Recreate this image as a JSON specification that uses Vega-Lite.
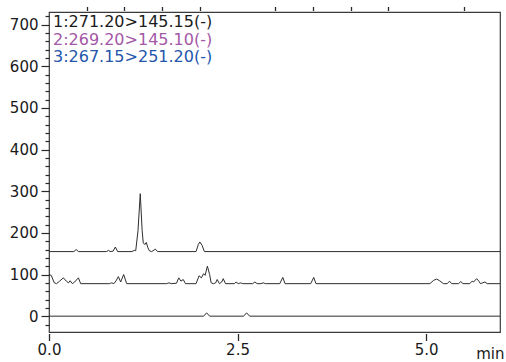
{
  "$schema": "https://vega.github.io/schema/vega-lite/v6.json",
  "width": 451,
  "height": 320,
  "autosize": {"type": "none"},
  "padding": {"left": 49, "top": 12, "right": 6, "bottom": 30},
  "background": "white",
  "config": {
    "view": {"stroke": "#3a3a3a", "strokeWidth": 1.2},
    "font": "DejaVu Sans"
  },
  "resolve": {"axis": {"x": "independent"}},
  "layer": [
    {
      "data": {
        "values": [
          {"ch": "1", "t": 0, "v": 155}, {"ch": "1", "t": 0.33, "v": 155}, {"ch": "1", "t": 0.36, "v": 160}, {"ch": "1", "t": 0.39, "v": 155},
          {"ch": "1", "t": 0.76, "v": 155}, {"ch": "1", "t": 0.79, "v": 158}, {"ch": "1", "t": 0.81, "v": 155}, {"ch": "1", "t": 0.85, "v": 156},
          {"ch": "1", "t": 0.88, "v": 166}, {"ch": "1", "t": 0.91, "v": 155}, {"ch": "1", "t": 1.1, "v": 155}, {"ch": "1", "t": 1.13, "v": 158},
          {"ch": "1", "t": 1.15, "v": 157}, {"ch": "1", "t": 1.18, "v": 205}, {"ch": "1", "t": 1.21, "v": 294}, {"ch": "1", "t": 1.235, "v": 205},
          {"ch": "1", "t": 1.25, "v": 176}, {"ch": "1", "t": 1.27, "v": 172}, {"ch": "1", "t": 1.29, "v": 177}, {"ch": "1", "t": 1.31, "v": 165},
          {"ch": "1", "t": 1.33, "v": 157}, {"ch": "1", "t": 1.36, "v": 155}, {"ch": "1", "t": 1.38, "v": 157}, {"ch": "1", "t": 1.41, "v": 161},
          {"ch": "1", "t": 1.44, "v": 155}, {"ch": "1", "t": 1.95, "v": 155}, {"ch": "1", "t": 1.98, "v": 172}, {"ch": "1", "t": 2.0, "v": 178},
          {"ch": "1", "t": 2.03, "v": 170}, {"ch": "1", "t": 2.06, "v": 155}, {"ch": "1", "t": 5.98, "v": 155},

          {"ch": "2", "t": 0, "v": 100}, {"ch": "2", "t": 0.03, "v": 98}, {"ch": "2", "t": 0.07, "v": 80}, {"ch": "2", "t": 0.1, "v": 78},
          {"ch": "2", "t": 0.14, "v": 84}, {"ch": "2", "t": 0.19, "v": 92}, {"ch": "2", "t": 0.23, "v": 84}, {"ch": "2", "t": 0.26, "v": 80},
          {"ch": "2", "t": 0.28, "v": 85}, {"ch": "2", "t": 0.31, "v": 78}, {"ch": "2", "t": 0.34, "v": 82}, {"ch": "2", "t": 0.39, "v": 92},
          {"ch": "2", "t": 0.42, "v": 78}, {"ch": "2", "t": 0.8, "v": 78}, {"ch": "2", "t": 0.83, "v": 80}, {"ch": "2", "t": 0.86, "v": 78},
          {"ch": "2", "t": 0.89, "v": 85}, {"ch": "2", "t": 0.92, "v": 95}, {"ch": "2", "t": 0.95, "v": 82}, {"ch": "2", "t": 0.99, "v": 100},
          {"ch": "2", "t": 1.03, "v": 78}, {"ch": "2", "t": 1.56, "v": 78}, {"ch": "2", "t": 1.59, "v": 80}, {"ch": "2", "t": 1.62, "v": 78},
          {"ch": "2", "t": 1.69, "v": 79}, {"ch": "2", "t": 1.72, "v": 92}, {"ch": "2", "t": 1.75, "v": 84}, {"ch": "2", "t": 1.78, "v": 88},
          {"ch": "2", "t": 1.81, "v": 78}, {"ch": "2", "t": 1.95, "v": 78}, {"ch": "2", "t": 1.99, "v": 97}, {"ch": "2", "t": 2.02, "v": 92},
          {"ch": "2", "t": 2.05, "v": 102}, {"ch": "2", "t": 2.07, "v": 98}, {"ch": "2", "t": 2.1, "v": 120}, {"ch": "2", "t": 2.13, "v": 100},
          {"ch": "2", "t": 2.15, "v": 80}, {"ch": "2", "t": 2.18, "v": 78}, {"ch": "2", "t": 2.21, "v": 80}, {"ch": "2", "t": 2.23, "v": 88},
          {"ch": "2", "t": 2.26, "v": 78}, {"ch": "2", "t": 2.29, "v": 82}, {"ch": "2", "t": 2.31, "v": 90}, {"ch": "2", "t": 2.34, "v": 78},
          {"ch": "2", "t": 2.46, "v": 78}, {"ch": "2", "t": 2.48, "v": 82}, {"ch": "2", "t": 2.51, "v": 78}, {"ch": "2", "t": 2.54, "v": 80},
          {"ch": "2", "t": 2.57, "v": 78}, {"ch": "2", "t": 2.7, "v": 78}, {"ch": "2", "t": 2.73, "v": 82}, {"ch": "2", "t": 2.76, "v": 78},
          {"ch": "2", "t": 2.81, "v": 78}, {"ch": "2", "t": 2.84, "v": 80}, {"ch": "2", "t": 2.87, "v": 78}, {"ch": "2", "t": 3.06, "v": 78},
          {"ch": "2", "t": 3.1, "v": 93}, {"ch": "2", "t": 3.13, "v": 78}, {"ch": "2", "t": 3.47, "v": 78}, {"ch": "2", "t": 3.51, "v": 93},
          {"ch": "2", "t": 3.54, "v": 78}, {"ch": "2", "t": 5.05, "v": 78}, {"ch": "2", "t": 5.1, "v": 86}, {"ch": "2", "t": 5.14, "v": 89},
          {"ch": "2", "t": 5.18, "v": 85}, {"ch": "2", "t": 5.23, "v": 78}, {"ch": "2", "t": 5.28, "v": 78}, {"ch": "2", "t": 5.31, "v": 84},
          {"ch": "2", "t": 5.34, "v": 78}, {"ch": "2", "t": 5.43, "v": 78}, {"ch": "2", "t": 5.46, "v": 83}, {"ch": "2", "t": 5.49, "v": 78},
          {"ch": "2", "t": 5.58, "v": 78}, {"ch": "2", "t": 5.61, "v": 84}, {"ch": "2", "t": 5.63, "v": 82}, {"ch": "2", "t": 5.67, "v": 90},
          {"ch": "2", "t": 5.7, "v": 84}, {"ch": "2", "t": 5.72, "v": 78}, {"ch": "2", "t": 5.75, "v": 80}, {"ch": "2", "t": 5.78, "v": 82},
          {"ch": "2", "t": 5.81, "v": 78}, {"ch": "2", "t": 5.98, "v": 78},

          {"ch": "3", "t": 0, "v": 0}, {"ch": "3", "t": 2.05, "v": 0}, {"ch": "3", "t": 2.09, "v": 8}, {"ch": "3", "t": 2.13, "v": 0},
          {"ch": "3", "t": 2.58, "v": 0}, {"ch": "3", "t": 2.62, "v": 8}, {"ch": "3", "t": 2.66, "v": 0}, {"ch": "3", "t": 5.98, "v": 0}
        ]
      },
      "mark": {"type": "line", "color": "#2e2e2e", "strokeWidth": 1, "interpolate": "linear"},
      "encoding": {
        "detail": {"field": "ch", "type": "nominal"},
        "x": {
          "field": "t",
          "type": "quantitative",
          "scale": {"domain": [0, 5.98], "nice": false, "zero": false},
          "axis": {
            "values": [0, 2.5, 5],
            "tickCount": 100,
            "format": ".1f",
            "labelOverlap": false,
            "labelFlush": false,
            "labelFont": "DejaVu Sans",
            "labelFontSize": 15,
            "labelColor": "#1a1a1a",
            "labelPadding": 2,
            "domain": false,
            "grid": false,
            "offset": 1.5,
            "tickColor": "#2a2a2a",
            "tickWidth": 1.3,
            "tickSize": 7,
            "title": "min",
            "titleFont": "DejaVu Sans",
            "titleFontSize": 15,
            "titleFontWeight": "normal",
            "titleColor": "#1a1a1a",
            "titleAlign": "right",
            "titleAnchor": "end",
            "titleBaseline": "alphabetic",
            "titleX": 455,
            "titleY": 25
          }
        },
        "y": {
          "field": "v",
          "type": "quantitative",
          "scale": {"domain": [-38, 730], "nice": false, "zero": false},
          "axis": {
            "values": [-20, 0, 20, 40, 60, 80, 100, 120, 140, 160, 180, 200, 220, 240, 260, 280, 300, 320, 340, 360, 380, 400, 420, 440, 460, 480, 500, 520, 540, 560, 580, 600, 620, 640, 660, 680, 700, 720],
            "tickCount": 100,
            "labelExpr": "datum.value % 100 === 0 ? format(datum.value, 'd') : ''",
            "labelOverlap": false,
            "labelFlush": false,
            "labelFont": "DejaVu Sans",
            "labelFontSize": 15,
            "labelColor": "#1a1a1a",
            "labelPadding": 3,
            "domain": false,
            "grid": false,
            "tickColor": "#2a2a2a",
            "tickWidth": 1.2,
            "tickSize": {"condition": {"test": "datum.value % 100 === 0", "value": 8}, "value": 4},
            "title": null
          }
        }
      }
    },
    {
      "data": {"values": [{"label": "1:271.20>145.15(-)"}]},
      "mark": {"type": "text", "align": "left", "baseline": "alphabetic", "font": "DejaVu Sans", "fontSize": 16, "color": "#1c1c1c"},
      "encoding": {
        "text": {"field": "label"},
        "x": {
          "datum": 0.053,
          "axis": {
            "values": [0.5, 1, 1.5, 2, 3, 3.5, 4, 4.5, 5.5],
            "tickCount": 100,
            "labels": false,
            "domain": false,
            "grid": false,
            "offset": 1.5,
            "tickColor": "#2a2a2a",
            "tickWidth": 1.3,
            "tickSize": 4,
            "title": null
          }
        },
        "y": {"datum": 693}
      }
    },
    {
      "data": {"values": [{"label": "2:269.20>145.10(-)"}]},
      "mark": {"type": "text", "align": "left", "baseline": "alphabetic", "font": "DejaVu Sans", "fontSize": 16, "color": "#a357a6"},
      "encoding": {"text": {"field": "label"}, "x": {"datum": 0.053, "axis": null}, "y": {"datum": 651}}
    },
    {
      "data": {"values": [{"label": "3:267.15>251.20(-)"}]},
      "mark": {"type": "text", "align": "left", "baseline": "alphabetic", "font": "DejaVu Sans", "fontSize": 16, "color": "#2456ab"},
      "encoding": {"text": {"field": "label"}, "x": {"datum": 0.053, "axis": null}, "y": {"datum": 609}}
    }
  ]
}
